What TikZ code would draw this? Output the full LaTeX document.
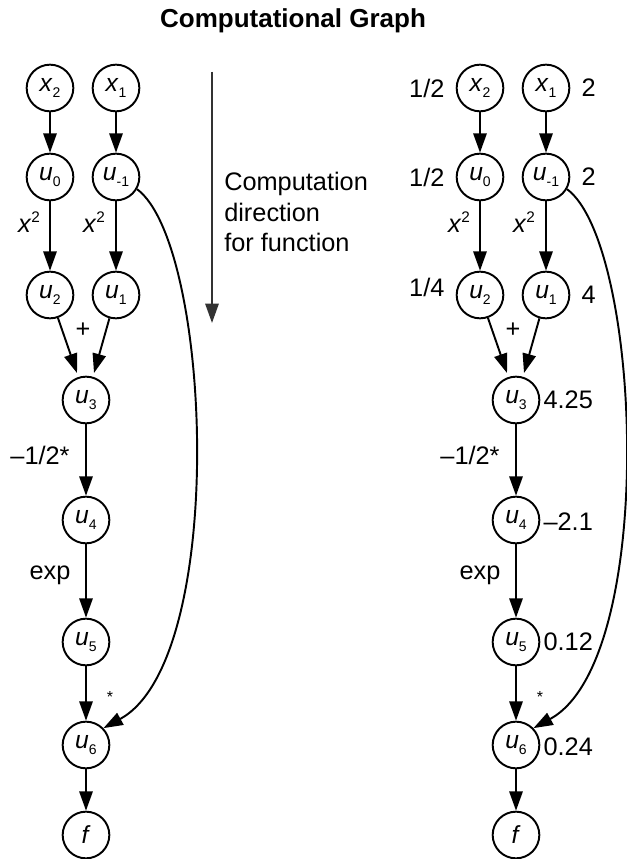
\documentclass[tikz,border=0pt]{standalone}
\usepackage{fontspec}
\setmainfont{Liberation Sans}
\usetikzlibrary{arrows.meta}
\tikzset{
  vert/.style={circle, draw, line width=1.45pt, minimum size=35pt, inner sep=0pt, font=\fontsize{18.5}{18.5}\selectfont},
  arr/.style={line width=1.45pt, -{Triangle[length=14.5pt,width=10pt]}},
  lab/.style={font=\fontsize{19}{23}\selectfont, inner sep=0pt},
}
\newcommand\vv[2]{\textit{#1}\raisebox{-5pt}{\fontsize{10.5}{10.5}\selectfont #2}}
\newcommand\sqlab{\textit{x}\raisebox{7pt}{\fontsize{11.5}{11.5}\selectfont 2}}
\newcommand\cgraph[2]{%
\begin{scope}[shift={(#2,0)}]
\node[vert] (#1x2) at (50,-88) {\vv{x}{2}};
\node[vert] (#1x1) at (116,-88) {\vv{x}{1}};
\node[vert] (#1u0) at (50,-177) {\vv{u}{0}};
\node[vert] (#1um) at (116,-177) {\vv{u}{-1}};
\node[vert] (#1u2) at (50,-295) {\vv{u}{2}};
\node[vert] (#1u1) at (116,-295) {\vv{u}{1}};
\node[vert] (#1u3) at (86,-400) {\vv{u}{3}};
\node[vert] (#1u4) at (86,-520) {\vv{u}{4}};
\node[vert] (#1u5) at (86,-642) {\vv{u}{5}};
\node[vert] (#1u6) at (86,-745) {\vv{u}{6}};
\node[vert] (#1f) at (86,-835) {\textit{f}};
\draw[arr] (#1x2) -- (#1u0);
\draw[arr] (#1x1) -- (#1um);
\draw[arr] (#1u0) -- (#1u2);
\draw[arr] (#1um) -- (#1u1);
\draw[arr] (#1u2) -- ([shift={(-9,27)}]#1u3.center);
\draw[arr] (#1u1) -- ([shift={(8,27)}]#1u3.center);
\draw[arr] (#1u3) -- (#1u4);
\draw[arr] (#1u4) -- (#1u5);
\draw[arr] (#1u5) -- (#1u6);
\draw[arr] (#1u6) -- (#1f);
\draw[arr] (#1um.-30) .. controls (212,-245) and (228,-660) .. (#1u6.44);
\node[lab, font=\fontsize{19}{23}\selectfont] (#1lsqa) at (29,-222) {\sqlab};
\node[lab, font=\fontsize{19}{23}\selectfont] (#1lsqb) at (94,-222) {\sqlab};
\node[lab] (#1lplus) at (83,-330) {+};
\node[lab] (#1lhalf) at (40,-455) {--1/2*};
\node[lab] (#1lexp) at (50,-575) {exp};
\node[lab, font=\fontsize{12}{12}\selectfont] (#1lstar) at (110,-697) {*};
\end{scope}}
\begin{document}
\begin{tikzpicture}[x=0.75pt,y=0.75pt]
\useasboundingbox (0,0) rectangle (626,-859);
\node[font=\bfseries\fontsize{19.5}{23}\selectfont, anchor=base, inner sep=0pt] (title) at (293,-28) {Computational Graph};
\cgraph{L}{0}
\cgraph{R}{430}
\coordinate (dtop) at (212,-72);
\coordinate (dbot) at (212,-323);
\draw[arr, draw=black!80, fill=black!80] (dtop) -- (dbot);
\node[lab, anchor=north west, align=left] (dtext) at (224,-172) {Computation\\direction\\for function};
\node[lab, anchor=east] (v1) at ([shift={(-11,0)}]Rx2.west) {1/2};
\node[lab, anchor=west] (v2) at ([shift={(11,0)}]Rx1.east) {2};
\node[lab, anchor=east] (v3) at ([shift={(-11,0)}]Ru0.west) {1/2};
\node[lab, anchor=west] (v4) at ([shift={(11,0)}]Rum.east) {2};
\node[lab, anchor=east] (v5) at ([shift={(-11,8)}]Ru2.west) {1/4};
\node[lab, anchor=west] (v6) at ([shift={(11,0)}]Ru1.east) {4};
\node[lab, anchor=west] (v7) at ([shift={(3,0)}]Ru3.east) {4.25};
\node[lab, anchor=west] (v8) at ([shift={(3,-2)}]Ru4.east) {--2.1};
\node[lab, anchor=west] (v9) at ([shift={(3,0)}]Ru5.east) {0.12};
\node[lab, anchor=west] (v10) at ([shift={(3,-2)}]Ru6.east) {0.24};
\end{tikzpicture}
\end{document}
